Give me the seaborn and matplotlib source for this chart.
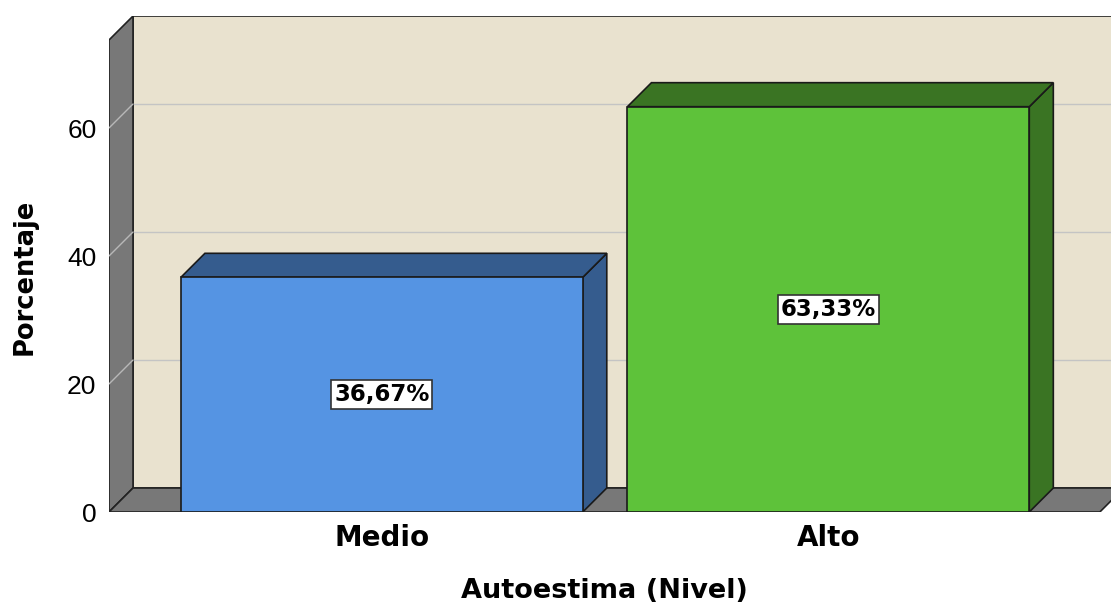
import numpy as np
import pandas as pd
import matplotlib
matplotlib.use("Agg")
import matplotlib.pyplot as plt
import seaborn as sns
from matplotlib.patches import Polygon, Rectangle

categories = ["Medio", "Alto"]
percentages = [36.67, 63.33]
value_labels = ["36,67%", "63,33%"]
y_ticks = [0, 20, 40, 60]

front_colors = ["#5594E3", "#5EC23A"]
depth_colors = ["#355C8E", "#3A7423"]
wall_color = "#E9E2CF"
side_gray = "#787878"

sns.set_style("white")
plt.rcParams["font.family"] = ["DejaVu Sans"]
plt.rcParams["text.color"] = "black"
plt.rcParams["xtick.color"] = "black"
plt.rcParams["ytick.color"] = "black"

df = pd.DataFrame({"Nivel": categories, "Porcentaje": percentages})

fig = plt.figure(figsize=(11.11, 6.08), dpi=100)
ax = fig.add_axes([109 / 1111, 96 / 608, 1002 / 1111, 496 / 608])

# depth offset of the 3D look, in data units
dx, dy = 0.0538, 3.75
x_lo, x_hi = -0.611, 1.633
y_top = 73.75

# back wall
ax.add_patch(Rectangle((x_lo + dx, dy), 3.0, y_top, facecolor=wall_color,
                       edgecolor="#222222", lw=1.2, zorder=0))
for v in y_ticks[1:]:
    ax.plot([x_lo + dx, x_hi + 1], [v + dy, v + dy], color="#C4C4C4", lw=1, zorder=1)

# left wall
ax.add_patch(Polygon([(x_lo, 0), (x_lo + dx, dy), (x_lo + dx, y_top + dy), (x_lo, y_top)],
                     closed=True, facecolor=side_gray, edgecolor="#222222", lw=1.2, zorder=2))
for v in y_ticks[1:]:
    ax.plot([x_lo, x_lo + dx], [v, v + dy], color="#B8B8B8", lw=1, zorder=3)

# floor
floor_end = 1.608
ax.add_patch(Polygon([(x_lo, 0), (floor_end, 0), (floor_end + dx, dy), (x_lo + dx, dy)],
                     closed=True, facecolor=side_gray, edgecolor="#222222", lw=1.2, zorder=2))

sns.barplot(data=df, x="Nivel", y="Porcentaje", hue="Nivel", palette=front_colors,
            saturation=1, width=0.9, edgecolor="#1a1a1a", linewidth=1.2, legend=False,
            ax=ax, zorder=5)

for bar, dcol, lab in zip(ax.patches[-2:], depth_colors, value_labels):
    x0 = bar.get_x()
    x1 = x0 + bar.get_width()
    h = bar.get_height()
    ax.add_patch(Polygon([(x1, 0), (x1 + dx, dy), (x1 + dx, h + dy), (x1, h)], closed=True,
                         facecolor=dcol, edgecolor="#1a1a1a", lw=1.2, zorder=4))
    ax.add_patch(Polygon([(x0, h), (x0 + dx, h + dy), (x1 + dx, h + dy), (x1, h)], closed=True,
                         facecolor=dcol, edgecolor="#1a1a1a", lw=1.2, zorder=4))
    ax.text((x0 + x1) / 2, h / 2, lab, ha="center", va="center", fontsize=16.5,
            fontweight="bold", zorder=7,
            bbox=dict(boxstyle="square,pad=0.12", facecolor="white", edgecolor="#333333", lw=1.2))

ax.set_xlim(x_lo, x_hi)
ax.set_ylim(0, y_top + dy)
ax.set_yticks(y_ticks)
ax.set_yticklabels([str(t) for t in y_ticks], fontsize=19, family="Liberation Sans")
ax.set_xticks([0, 1])
ax.set_xticklabels(categories, fontsize=20, fontweight="bold")
ax.tick_params(axis="y", length=0, pad=9)
ax.tick_params(axis="x", length=0, pad=8.5)
ax.set_xlabel("")
ax.set_ylabel("")
for s in ax.spines.values():
    s.set_visible(False)

fig.text(25 / 1111, 1 - 277 / 608, "Porcentaje", rotation=90, ha="center", va="center",
         fontsize=18.5, fontweight="bold")
fig.text(604 / 1111, 1 - 591 / 608, "Autoestima (Nivel)", ha="center", va="center",
         fontsize=19.5, fontweight="bold")

fig.savefig("out.png", dpi=100)
